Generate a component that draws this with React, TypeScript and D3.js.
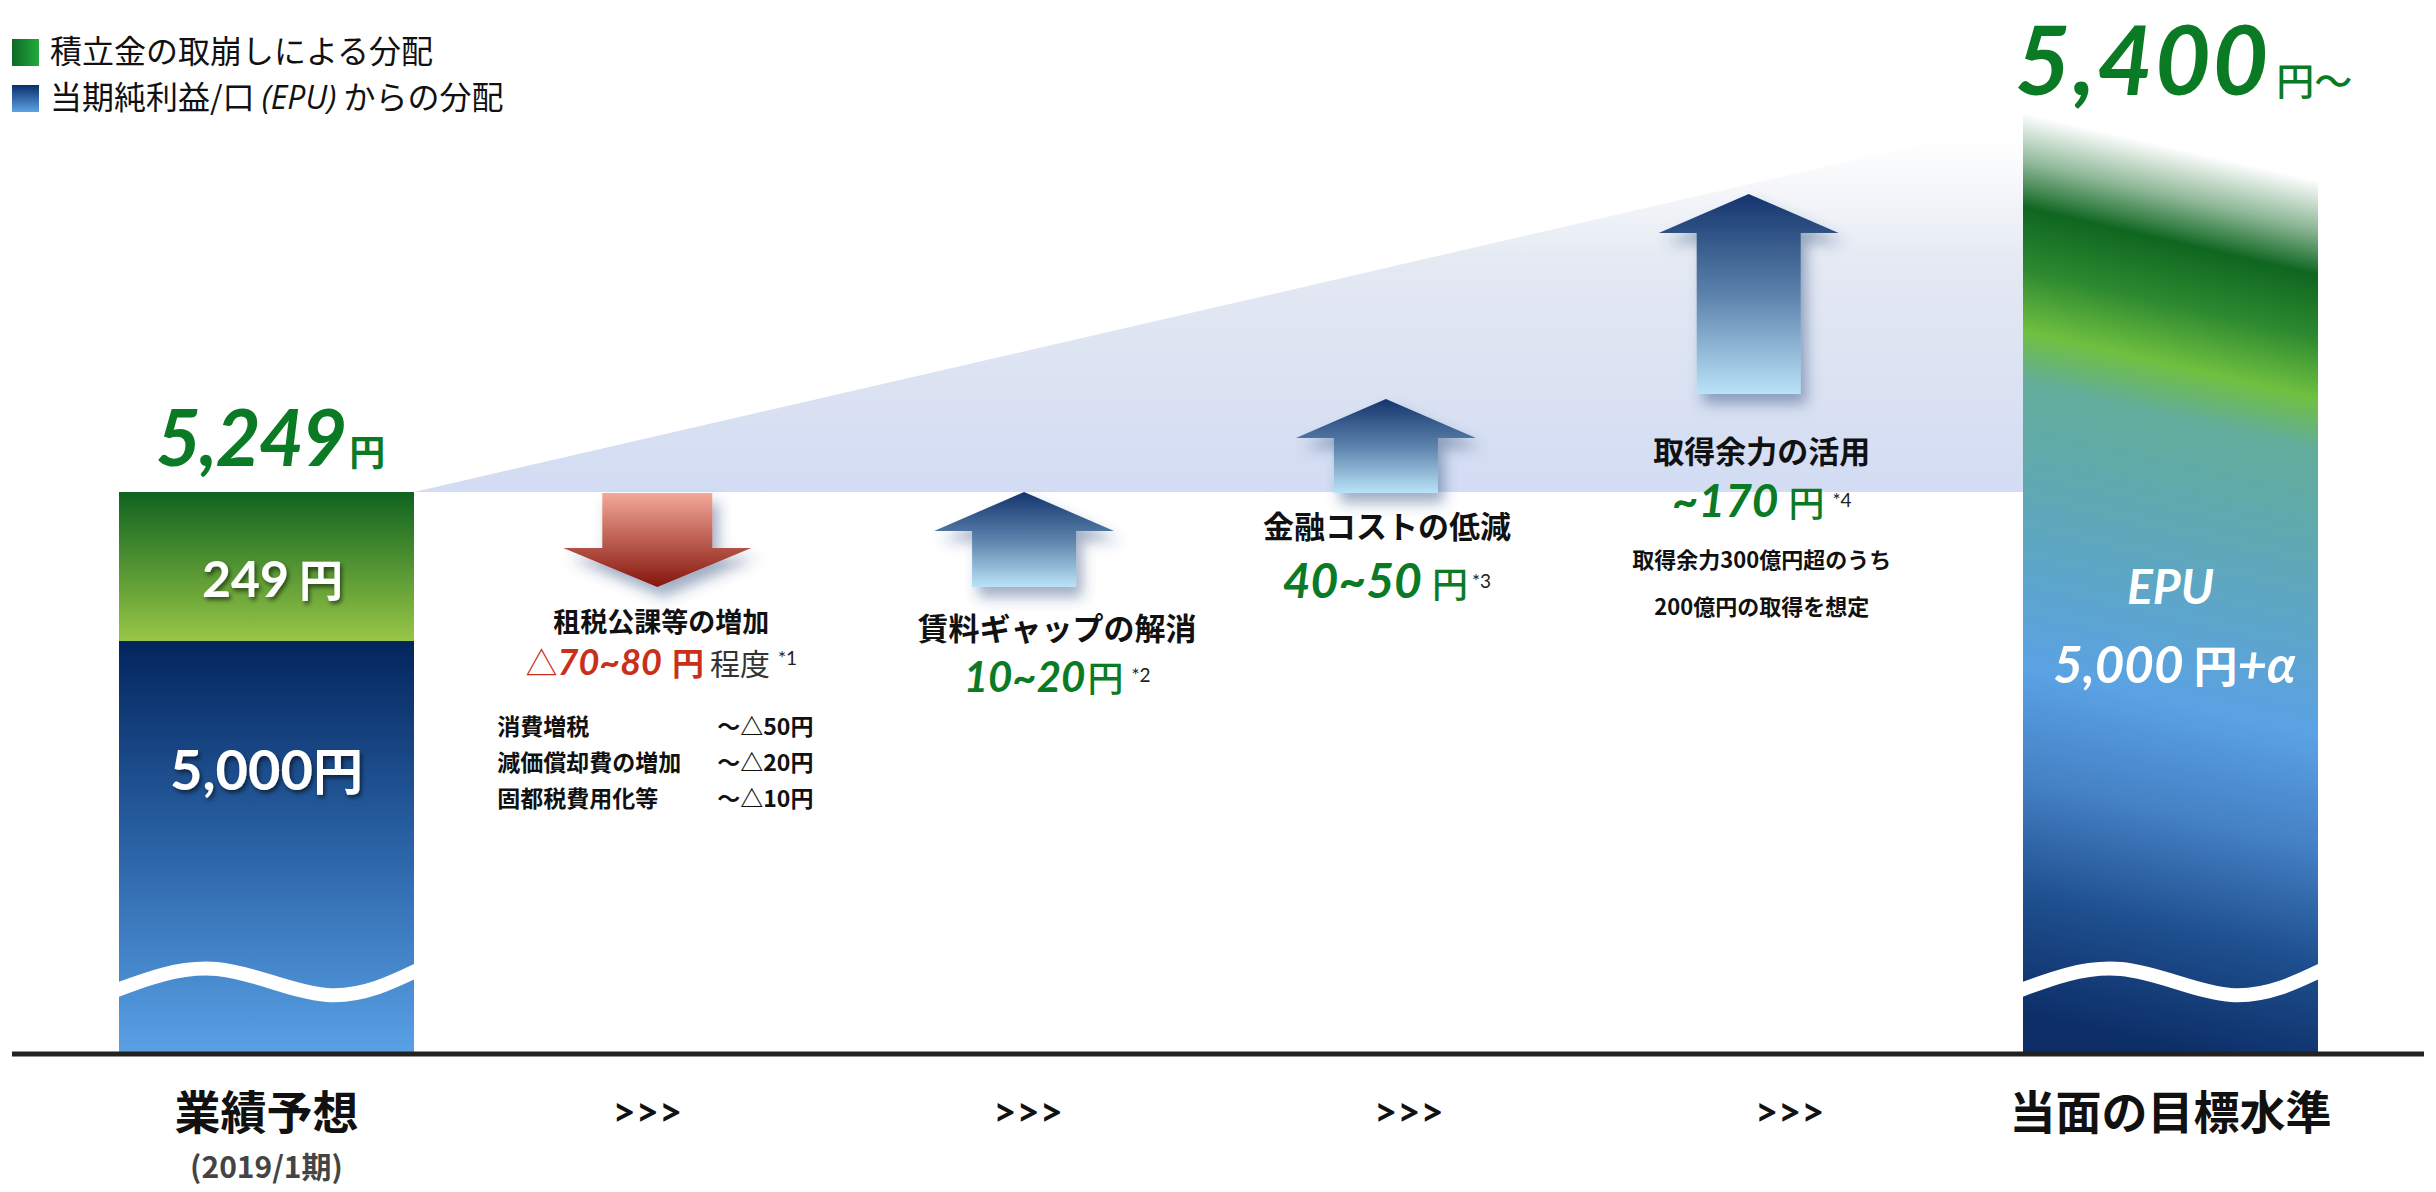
import React from 'react';
import * as d3 from 'd3';

// stages along the bottom
const stageKeys = ['forecast', 's1', 's2', 's3', 's4', 'target'];
const stageLabels = ['業績予想', '>>>', '>>>', '>>>', '>>>', '当面の目標水準'];
const forecastSub = '(2019/1期)';

// bars
const forecastReserve = 249;
const forecastEPU = 5000;
const forecastTotal = 5249;
const targetTotal = 5400;
const targetEPU = 5000;

// legend
const legendLabels = ['積立金の取崩しによる分配', '当期純利益/口 (EPU) からの分配'];

// drivers
const factorNames = ['租税公課等の増加', '賃料ギャップの解消', '金融コストの低減', '取得余力の活用'];
const factorPrefix = ['△', '', '', '~'];
const factorValues = ['70~80', '10~20', '40~50', '170'];
const factorSuffix = ['程度', '', '', ''];
const factorNotes = ['*1', '*2', '*3', '*4'];
const factorDirection = ['down', 'up', 'up', 'up'];

const taxItems = ['消費増税', '減価償却費の増加', '固都税費用化等'];
const taxAmounts = ['～△50円', '～△20円', '～△10円'];
const acquisitionNotes = ['取得余力300億円超のうち', '200億円の取得を想定'];

// ---- layout ----
const W = 2436;
const H = 1192;
const baseY = 1054;
const barW = 295;
const axisFloor = 4310; // hidden under the wave break
const glowTopY = 121;
const targetTopY = 100;
const arrowSpan = [[493, 587], [492, 587], [399, 493], [194, 394]];
const arrowDx = [10, -4, -23, -41];
const labelDx = [14, 29, -22, -28];
const titleY = [632, 640, 538, 463];
const valueY = [675, 692, 598, 517];
const valueSize = [36, 42, 48, 46];

const JP = "'Noto Sans CJK JP', sans-serif";
const NUM = "Lato, 'Open Sans', sans-serif";
const GREEN = '#0b7a24';
const RED = '#c9301c';

const x = d3.scalePoint<string>().domain(stageKeys).range([266.5, 2170.5]);
const y = d3.scaleLinear().domain([axisFloor, forecastTotal]).range([baseY, 492]);

const arrowPath = (cx: number, top: number, bottom: number, dir: string) => {
  const p = d3.path();
  const headH = 39;
  const hh = dir === 'down' ? 94 : 90;
  const sh = dir === 'down' ? 55 : 52;
  if (dir === 'up') {
    p.moveTo(cx, top);
    p.lineTo(cx + hh, top + headH);
    p.lineTo(cx + sh, top + headH);
    p.lineTo(cx + sh, bottom);
    p.lineTo(cx - sh, bottom);
    p.lineTo(cx - sh, top + headH);
    p.lineTo(cx - hh, top + headH);
  } else {
    p.moveTo(cx - sh, top);
    p.lineTo(cx + sh, top);
    p.lineTo(cx + sh, bottom - headH);
    p.lineTo(cx + hh, bottom - headH);
    p.lineTo(cx, bottom);
    p.lineTo(cx - hh, bottom - headH);
    p.lineTo(cx - sh, bottom - headH);
  }
  p.closePath();
  return p.toString();
};

const wave = (x0: number) => {
  const pts: [number, number][] = [
    [x0 - 10, 993], [x0 + 98, 969], [x0 + 208, 995], [x0 + barW + 10, 967],
  ];
  return d3.line().curve(d3.curveNatural)(pts) || '';
};

export default function App() {
  const lx = x('forecast')! - barW / 2;
  const rx = x('target')! - barW / 2;
  const rcx = x('target')!;

  return (
    <svg width={W} height={H} style={{ position: 'absolute', left: 0, top: 0, background: '#fff' }}>
      <defs>
        <linearGradient id="lgGreen" x1="0" x2="1" y1="0" y2="0">
          <stop offset="0" stopColor="#0d6a24" />
          <stop offset="1" stopColor="#22aa3c" />
        </linearGradient>
        <linearGradient id="lgBlue" x1="0" x2="0" y1="0" y2="1">
          <stop offset="0" stopColor="#0a2d6b" />
          <stop offset="1" stopColor="#5ca3e4" />
        </linearGradient>
        <linearGradient id="leftGreen" x1="0" x2="0" y1="0" y2="1">
          <stop offset="0" stopColor="#0e621f" />
          <stop offset="1" stopColor="#98c646" />
        </linearGradient>
        <linearGradient id="leftBlue" x1="0" x2="0" y1="0" y2="1">
          <stop offset="0" stopColor="#03255d" />
          <stop offset="0.5" stopColor="#2a63a6" />
          <stop offset="1" stopColor="#5aa1e6" />
        </linearGradient>
        <linearGradient id="rightBar" gradientUnits="userSpaceOnUse"
          x1={rcx} y1={targetTopY} x2={rcx - 208} y2={targetTopY + 906}>
          <stop offset="0" stopColor="#ffffff" />
          <stop offset="0.049" stopColor="#ffffff" />
          <stop offset="0.1" stopColor="#8fb898" />
          <stop offset="0.148" stopColor="#0e6620" />
          <stop offset="0.214" stopColor="#2e8a30" />
          <stop offset="0.278" stopColor="#70c040" />
          <stop offset="0.33" stopColor="#62ad9a" />
          <stop offset="0.45" stopColor="#5fa8b6" />
          <stop offset="0.632" stopColor="#5aa2e4" />
          <stop offset="0.75" stopColor="#4480c4" />
          <stop offset="0.87" stopColor="#1e4f8e" />
          <stop offset="1" stopColor="#0c2d66" />
        </linearGradient>
        <linearGradient id="glow" gradientUnits="userSpaceOnUse" x1="0" x2="0" y1={glowTopY + 20} y2={y(forecastTotal)}>
          <stop offset="0" stopColor="#ffffff" />
          <stop offset="0.35" stopColor="#e4e9f2" />
          <stop offset="1" stopColor="#d2dcf3" />
        </linearGradient>
        <linearGradient id="upArrow" x1="0" x2="0" y1="0" y2="1">
          <stop offset="0" stopColor="#15346d" />
          <stop offset="0.5" stopColor="#5a82ab" />
          <stop offset="1" stopColor="#bae3f8" />
        </linearGradient>
        <linearGradient id="downArrow" x1="0" x2="0" y1="0" y2="1">
          <stop offset="0" stopColor="#f4a898" />
          <stop offset="1" stopColor="#85150c" />
        </linearGradient>
        <filter id="arrowShadow" x="-40%" y="-40%" width="180%" height="180%">
          <feDropShadow dx="6" dy="10" stdDeviation="7" floodColor="#2b4a7a" floodOpacity="0.45" />
        </filter>
        <filter id="textShadow" x="-20%" y="-40%" width="140%" height="180%">
          <feDropShadow dx="2" dy="3" stdDeviation="2" floodColor="#000" floodOpacity="0.55" />
        </filter>
        <clipPath id="clipLeft"><rect x={lx} y={0} width={barW} height={baseY} /></clipPath>
        <clipPath id="clipRight"><rect x={rx} y={0} width={barW} height={baseY} /></clipPath>
      </defs>

      {/* legend */}
      <rect x={12} y={39} width={27} height={27} fill="url(#lgGreen)" />
      <rect x={12} y={85} width={27} height={27} fill="url(#lgBlue)" />
      <text x={50} y={63} fontFamily={JP} fontSize={32} fill="#111">{legendLabels[0]}</text>
      <text x={50} y={109} fontFamily={JP} fontSize={32} fill="#111">
        {legendLabels[1].split('(EPU)')[0]}
        <tspan fontStyle="italic" fontFamily="'Open Sans', sans-serif">(EPU)</tspan>
        {legendLabels[1].split('(EPU)')[1]}
      </text>

      {/* glow trapezoid */}
      <path
        d={`M${lx + barW},${y(forecastTotal)}L${rx},${glowTopY}L${rx},${y(forecastTotal)}Z`}
        fill="url(#glow)"
      />

      {/* forecast bar */}
      <rect x={lx} y={y(forecastTotal)} width={barW} height={y(forecastEPU) - y(forecastTotal)} fill="url(#leftGreen)" />
      <rect x={lx} y={y(forecastEPU)} width={barW} height={baseY - y(forecastEPU)} fill="url(#leftBlue)" />
      <path d={wave(lx)} clipPath="url(#clipLeft)" fill="none" stroke="#fff" strokeWidth={14} />
      <text x={x('forecast')! + 6} y={597} textAnchor="middle" fill="#fff" filter="url(#textShadow)"
        fontFamily={NUM} fontWeight={700} fontSize={50}>
        {forecastReserve}<tspan fontFamily={JP} fontSize={44} dx={10}>円</tspan>
      </text>
      <text x={x('forecast')!} y={790} textAnchor="middle" fill="#fff" filter="url(#textShadow)"
        fontFamily={NUM} fontWeight={700} fontSize={56}>
        {d3.format(',')(forecastEPU)}<tspan fontFamily={JP} fontSize={50}>円</tspan>
      </text>
      <text x={x('forecast')! + 4} y={466} textAnchor="middle" fill={GREEN}
        fontFamily={NUM} fontWeight={700} fontStyle="italic" fontSize={78} letterSpacing={-2}>
        {d3.format(',')(forecastTotal)}<tspan fontFamily={JP} fontStyle="normal" fontSize={36} letterSpacing={0} dx={4}>円</tspan>
      </text>

      {/* target bar */}
      <rect x={rx} y={targetTopY} width={barW} height={baseY - targetTopY} fill="url(#rightBar)" />
      <path d={wave(rx)} clipPath="url(#clipRight)" fill="none" stroke="#fff" strokeWidth={14} />
      <text x={rcx} y={604} textAnchor="middle" fill="#fff"
        fontFamily={NUM} fontWeight={700} fontStyle="italic" fontSize={48}>EPU</text>
      <text x={rcx + 4} y={683} textAnchor="middle" fill="#fff"
        fontFamily={NUM} fontWeight={700} fontSize={51}>
        <tspan fontStyle="italic">{d3.format(',')(targetEPU)}</tspan>
        <tspan fontFamily={JP} fontSize={44} dx={10}>円</tspan>
        <tspan fontStyle="italic">+α</tspan>
      </text>
      <text x={2015} y={95} fill={GREEN}
        fontFamily={NUM} fontWeight={700} fontStyle="italic" fontSize={96} letterSpacing={2}>
        {d3.format(',')(targetTotal)}
        <tspan fontFamily={JP} fontStyle="normal" fontWeight={500} fontSize={38} letterSpacing={0} dx={6}>円～</tspan>
      </text>

      {/* driver arrows */}
      {factorNames.map((name, i) => {
        const cx = x(stageKeys[i + 1])! + arrowDx[i];
        const tx = x(stageKeys[i + 1])! + labelDx[i];
        const dir = factorDirection[i];
        const col = dir === 'down' ? RED : GREEN;
        return (
          <g key={name}>
            <path d={arrowPath(cx, arrowSpan[i][0], arrowSpan[i][1], dir)}
              fill={dir === 'down' ? 'url(#downArrow)' : 'url(#upArrow)'} filter="url(#arrowShadow)" />
            <text x={tx} y={titleY[i]} textAnchor="middle" fontFamily={JP} fontWeight={700}
              fontSize={i === 0 ? 27 : 31} fill="#111">{name}</text>
            <text x={tx} y={valueY[i]} textAnchor="middle" fill={col}>
              {factorPrefix[i] && (
                <tspan fontFamily={i === 0 ? JP : NUM} fontWeight={i === 0 ? 400 : 700}
                  fontSize={i === 0 ? 32 : valueSize[i]}>{factorPrefix[i]}</tspan>
              )}
              <tspan fontFamily={NUM} fontWeight={700} fontStyle="italic" fontSize={valueSize[i]}>{factorValues[i]}</tspan>
              <tspan fontFamily={JP} fontWeight={i === 0 ? 700 : 500} fontSize={i === 0 ? 32 : 36} dx={i === 1 ? 2 : 10}>円</tspan>
              {factorSuffix[i] && (
                <tspan fontFamily={JP} fontWeight={400} fontSize={30} fill="#333" dx={6}>{factorSuffix[i]}</tspan>
              )}
              <tspan fontFamily={NUM} fontSize={19} fill="#222" dx={i === 2 ? 4 : 8} dy={-10}>{factorNotes[i]}</tspan>
            </text>
          </g>
        );
      })}

      {/* tax breakdown */}
      {taxItems.map((t, i) => (
        <g key={t} fontFamily={JP} fontWeight={700} fontSize={23} fill="#111">
          <text x={x('s1')! + arrowDx[0] - 160} y={735 + i * 36}>{t}</text>
          <text x={x('s1')! + arrowDx[0] + 60} y={735 + i * 36}>{taxAmounts[i]}</text>
        </g>
      ))}

      {/* acquisition notes */}
      {acquisitionNotes.map((t, i) => (
        <text key={t} x={x('s4')! + labelDx[3]} y={568 + i * 47} textAnchor="middle"
          fontFamily={JP} fontWeight={700} fontSize={22} fill="#111">{t}</text>
      ))}

      {/* baseline */}
      <line x1={12} x2={2424} y1={baseY} y2={baseY} stroke="#222" strokeWidth={5} />

      {/* stage labels */}
      {stageKeys.map((k, i) => {
        const isArrow = stageLabels[i] === '>>>';
        return (
          <text key={k} x={x(k)!} y={isArrow ? 1126 : 1129} textAnchor="middle"
            fontFamily={isArrow ? NUM : JP} fontWeight={700} fontSize={isArrow ? 40 : 46} fill="#111">
            {stageLabels[i]}
          </text>
        );
      })}
      <text x={x('forecast')!} y={1178} textAnchor="middle" fontFamily={JP} fontWeight={700} fontSize={30} fill="#444">
        {forecastSub}
      </text>
    </svg>
  );
}
